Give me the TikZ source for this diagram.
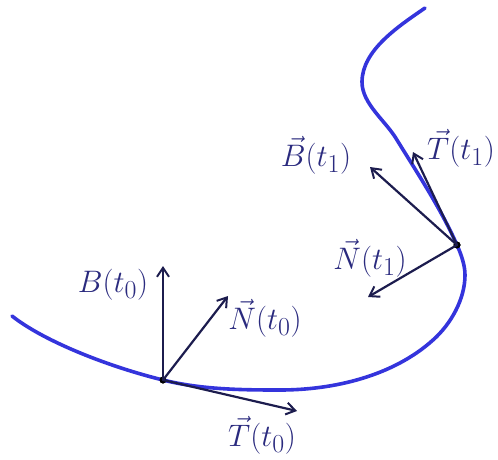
\documentclass[tikz,border=0pt]{standalone}
\usepackage{graphicx}
\usetikzlibrary{arrows.meta}
\definecolor{curveblue}{HTML}{3434DC}
\definecolor{vecnavy}{HTML}{1C1C4E}
\definecolor{labnavy}{HTML}{2A2A7E}
\newcommand{\biglab}[1]{\scalebox{1.25}{#1}}
\begin{document}
\begin{tikzpicture}[x=1pt,y=-1pt,
  vecarrow/.style={draw=vecnavy,line width=2.2pt,line cap=round,-{Straight Barb[length=9pt,width=12pt,line width=2pt]}},
  lab/.style={text=labnavy,font=\fontsize{24.88}{30}\selectfont,inner sep=1pt},
  dotpt/.style={circle,fill=black,inner sep=0pt,minimum size=7pt}]
\useasboundingbox (0,0) rectangle (498,459);
% points
\node[dotpt] (P0) at (163,380) {};
\node[dotpt] (P1) at (457,245) {};
% curve
\coordinate (S) at (12,316);
\coordinate (Q) at (280,390);
\coordinate (R) at (433,340);
\coordinate (U) at (465,275);
\coordinate (V) at (397,140);
\coordinate (W) at (362,82);
\coordinate (X) at (425,8);
\draw[curveblue,line width=3.6pt,line cap=round]
  (S) .. controls (45,342) and (110,367) .. (P0.center)
      .. controls (201,389.5) and (241,390) .. (Q)
      .. controls (334,390) and (393,376) .. (R)
      .. controls (451,324) and (465,299) .. (U)
      .. controls (465,265) and (461,254) .. (P1.center)
      .. controls (441,209) and (418,174) .. (V)
      .. controls (386,121) and (362,104) .. (W)
      .. controls (362,50) and (399,26) .. (X);
\node[dotpt] at (P0) {};
\node[dotpt] at (P1) {};
% tips
\coordinate (B0) at (163,266);
\coordinate (N0) at (228,296);
\coordinate (T0) at (297,411);
\coordinate (T1) at (413,152);
\coordinate (B1) at (370,167);
\coordinate (N1) at (368,297);
\draw[vecarrow] (P0.center) -- (B0);
\draw[vecarrow] (P0.center) -- (N0);
\draw[vecarrow] (P0.center) -- (T0);
\draw[vecarrow] (P1.center) -- (T1);
\draw[vecarrow] (P1.center) -- (B1);
\draw[vecarrow] (P1.center) -- (N1);
% labels
\node[lab] (LB0) at (113,285) {\biglab{$B(t_0)$}};
\node[lab] (LN0) at (265,318) {\biglab{$\vec{N}(t_0)$}};
\node[lab] (LT0) at (262,435) {\biglab{$\vec{T}(t_0)$}};
\node[lab] (LT1) at (461,148) {\biglab{$\vec{T}(t_1)$}};
\node[lab] (LB1) at (316,155) {\biglab{$\vec{B}(t_1)$}};
\node[lab] (LN1) at (370,258) {\biglab{$\vec{N}(t_1)$}};
\end{tikzpicture}
\end{document}
